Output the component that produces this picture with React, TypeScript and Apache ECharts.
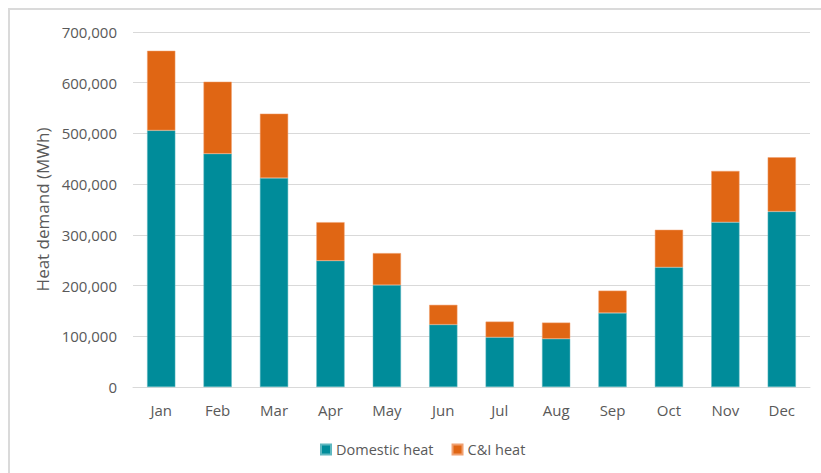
import React, { useEffect, useRef } from "react";
import * as echarts from "echarts";

const months = ["Jan", "Feb", "Mar", "Apr", "May", "Jun", "Jul", "Aug", "Sep", "Oct", "Nov", "Dec"];
const domesticHeat = [506000, 460000, 412000, 249000, 201000, 123000, 98000, 95000, 146000, 236000, 325000, 346000];
const ciHeat = [157000, 142000, 127000, 76000, 63000, 39000, 31000, 32000, 44000, 74000, 101000, 107000];
const seriesNames = ["Domestic heat", "C&I heat"];
const yAxisTitle = "Heat demand (MWh)";

const FONT = "'Open Sans', sans-serif";
const TEXT = "#595959";

export default function App() {
  const ref = useRef<HTMLDivElement>(null);
  useEffect(() => {
    if (!ref.current) return;
    const chart = echarts.init(ref.current, undefined, { renderer: "svg" });
    chart.setOption({
      animation: false,
      backgroundColor: "#ffffff",
      textStyle: { fontFamily: FONT },
      grid: { left: 133, right: 11, top: 32, bottom: 86 },
      legend: {
        left: 315,
        top: 437,
        itemWidth: 10,
        itemHeight: 10,
        itemGap: 18,
        icon: "rect",
        textStyle: { color: TEXT, fontSize: 14.5, fontFamily: FONT },
        data: seriesNames,
      },
      xAxis: {
        type: "category",
        data: months,
        axisLine: { lineStyle: { color: "#d9d9d9", width: 1 } },
        axisTick: { show: false },
        axisLabel: { color: TEXT, fontSize: 15, margin: 15, fontFamily: FONT },
      },
      yAxis: {
        type: "value",
        min: 0,
        max: 700000,
        interval: 100000,
        name: yAxisTitle,
        nameLocation: "middle",
        nameGap: 80,
        nameTextStyle: { color: TEXT, fontSize: 17, fontFamily: FONT },
        axisLine: { show: false },
        axisTick: { show: false },
        axisLabel: {
          color: TEXT,
          fontSize: 15,
          margin: 16,
          fontFamily: FONT,
          formatter: (v: number) => v.toLocaleString("en-US"),
        },
        splitLine: { lineStyle: { color: "#d9d9d9", width: 1 } },
      },
      series: [
        {
          name: seriesNames[0],
          type: "bar",
          stack: "total",
          data: domesticHeat,
          barWidth: "50%",
          itemStyle: { color: "#008c9a", borderColor: "#5fb8c0", borderWidth: 0.5 },
        },
        {
          name: seriesNames[1],
          type: "bar",
          stack: "total",
          data: ciHeat,
          barWidth: "50%",
          itemStyle: { color: "#e06614", borderColor: "#f0a070", borderWidth: 0.5 },
        },
      ],
    });
    return () => chart.dispose();
  }, []);
  return (
    <div style={{ position: "fixed", left: 0, top: 0, width: 821, height: 473, background: "#fff", overflow: "hidden" }}>
      <div ref={ref} style={{ position: "absolute", left: 0, top: 0, width: 821, height: 473 }} />
      <div
        style={{
          position: "absolute",
          left: 8,
          top: 8,
          width: 830,
          height: 480,
          borderLeft: "2px solid #dadada",
          borderTop: "2px solid #dadada",
          pointerEvents: "none",
          boxSizing: "border-box",
        }}
      />
    </div>
  );
}
